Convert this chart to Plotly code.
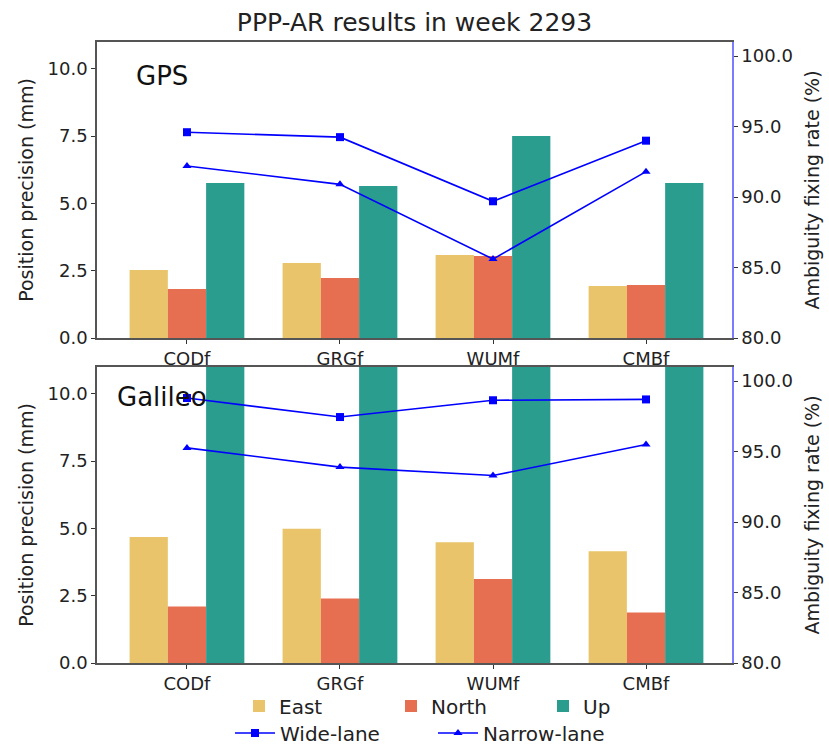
import plotly.graph_objects as go

centers = ["CODf", "GRGf", "WUMf", "CMBf"]

gps_east = [2.53, 2.79, 3.08, 1.93]
gps_north = [1.82, 2.23, 3.05, 1.97]
gps_up = [5.76, 5.65, 7.51, 5.76]
gps_wl = [94.6, 94.25, 89.7, 94.0]
gps_nl = [92.2, 90.9, 85.6, 91.8]

gal_east = [4.68, 4.99, 4.49, 4.15]
gal_north = [2.10, 2.40, 3.12, 1.88]
gal_up = [12.6, 12.4, 12.8, 12.5]
gal_wl = [98.8, 97.45, 98.64, 98.7]
gal_nl = [95.26, 93.9, 93.3, 95.5]

c_east = "#E9C46A"
c_north = "#E76F51"
c_up = "#2A9D8F"
c_line = "#0000FF"

xi = list(range(len(centers)))

fig = go.Figure()

def add_panel(east, north, up, wl, nl, xa, ya, ya2, show):
    for vals, name, col, grp in [(east, "East", c_east, "e"), (north, "North", c_north, "n"),
                                 (up, "Up", c_up, "u")]:
        fig.add_trace(go.Bar(x=xi, y=vals, name=name, marker=dict(color=col, line=dict(width=0)),
                             xaxis=xa, yaxis=ya, showlegend=show, legend="legend", legendgroup=grp))
    fig.add_trace(go.Scatter(x=xi, y=wl, name="Wide-lane", mode="lines+markers",
                             line=dict(color=c_line, width=1.6),
                             marker=dict(symbol="square", size=8, color=c_line),
                             xaxis=xa, yaxis=ya2, showlegend=show, legend="legend2", legendgroup="w"))
    fig.add_trace(go.Scatter(x=xi, y=nl, name="Narrow-lane", mode="lines+markers",
                             line=dict(color=c_line, width=1.6),
                             marker=dict(symbol="triangle-up", size=8, color=c_line),
                             xaxis=xa, yaxis=ya2, showlegend=show, legend="legend2", legendgroup="nl"))

add_panel(gps_east, gps_north, gps_up, gps_wl, gps_nl, "x", "y", "y2", True)
add_panel(gal_east, gal_north, gal_up, gal_wl, gal_nl, "x2", "y3", "y4", False)

W, H = 829, 747
x0, x1 = 97 / W, 732 / W
top_dom = [1 - 338 / H, 1 - 42 / H]
bot_dom = [1 - 663 / H, 1 - 367 / H]

font = "DejaVu Sans"
tickfont = dict(family=font, size=18, color="#222")
titlefont = dict(family=font, size=19, color="#222")

xcommon = dict(range=[-0.588, 3.562], tickmode="array", tickvals=xi, ticktext=centers,
               ticks="outside", ticklen=4, tickcolor="#333", showline=True, linecolor="#555",
               linewidth=1.5, mirror=True, showgrid=False, zeroline=False, tickfont=tickfont,
               domain=[x0, x1], automargin=False)
ycommon = dict(range=[0, 11], tickmode="array", tickvals=[0, 2.5, 5, 7.5, 10], tickformat=".1f",
               ticks="outside", ticklen=4, tickcolor="#333", showline=True, linecolor="#555",
               linewidth=1.5, showgrid=False, zeroline=False, tickfont=tickfont, automargin=False,
               title=dict(text="Position precision (mm)", font=titlefont, standoff=9))
y2common = dict(range=[80, 101], tickmode="array", tickvals=[80, 85, 90, 95, 100], tickformat=".1f",
                ticks="outside", ticklen=4, tickcolor="#333", showline=True, linecolor="#7B7BFF",
                linewidth=1.5, showgrid=False, zeroline=False, tickfont=tickfont, side="right",
                automargin=False,
                title=dict(text="Ambiguity fixing rate (%)", font=titlefont, standoff=14))

fig.update_layout(
    width=W, height=H,
    margin=dict(l=0, r=0, t=0, b=0, autoexpand=False),
    paper_bgcolor="white", plot_bgcolor="white",
    barmode="group", bargap=0.25, bargroupgap=0,
    font=dict(family=font),
    title=dict(text="PPP-AR results in week 2293", x=0.5, xanchor="center", y=1 - 22 / H,
               yanchor="middle", font=dict(family=font, size=25, color="#222")),
    xaxis=dict(anchor="y", **xcommon),
    yaxis=dict(domain=top_dom, anchor="x", **ycommon),
    yaxis2=dict(overlaying="y", anchor="x", **y2common),
    xaxis2=dict(anchor="y3", **xcommon),
    yaxis3=dict(domain=bot_dom, anchor="x2", **ycommon),
    yaxis4=dict(overlaying="y3", anchor="x2", **y2common),
    legend=dict(orientation="h", x=239 / W, xanchor="left",
                y=1 - 706 / H, yanchor="middle",
                font=dict(family=font, size=20, color="#222"), entrywidth=107, bgcolor="rgba(0,0,0,0)"),
    legend2=dict(orientation="h", x=230 / W, xanchor="left",
                 y=1 - 733 / H, yanchor="middle",
                 font=dict(family=font, size=20, color="#222"), entrywidth=148, itemwidth=40,
                 bgcolor="rgba(0,0,0,0)"),
    annotations=[
        dict(text="GPS", x=134 / W, y=1 - 76 / H, xref="paper", yref="paper", xanchor="left",
             yanchor="middle", showarrow=False, font=dict(family=font, size=26, color="#111")),
        dict(text="Galileo", x=115 / W, y=1 - 397 / H, xref="paper", yref="paper", xanchor="left",
             yanchor="middle", showarrow=False, font=dict(family=font, size=26, color="#111")),
    ],
)

fig.write_html("out.html")
